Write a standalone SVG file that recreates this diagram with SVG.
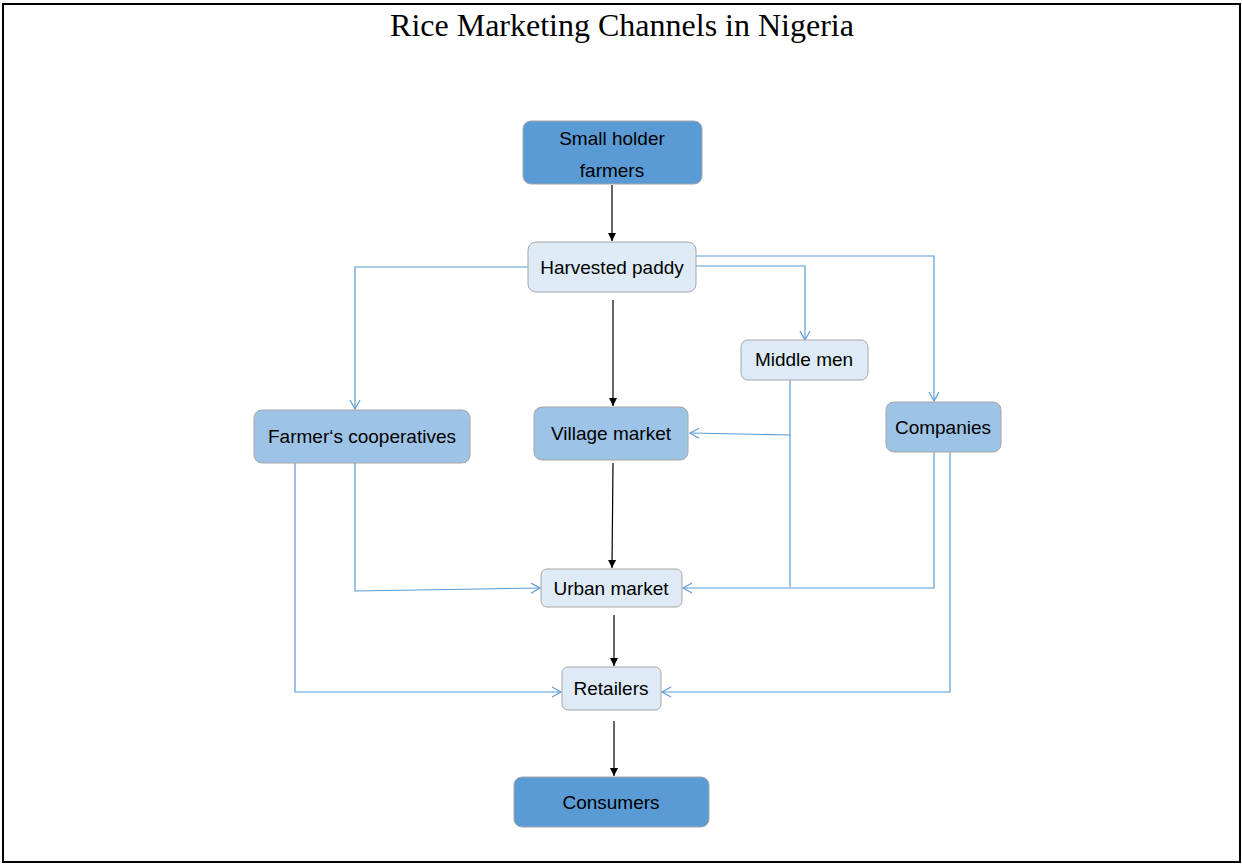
<svg xmlns="http://www.w3.org/2000/svg" width="1242" height="864" viewBox="0 0 1242 864">
<style>
.t{font-family:"Liberation Sans",Arial,sans-serif;font-size:19px;fill:#000;text-anchor:middle}
.dark{fill:#5B9BD5;stroke:#A6A6A6;stroke-width:1}
.mid{fill:#9DC3E6;stroke:#A6A6A6;stroke-width:1}
.light{fill:#DEEBF7;stroke:#A6A6A6;stroke-width:1}
.b{stroke:#000;stroke-width:1.2;fill:none;marker-end:url(#ab)}
.c{stroke:#5B9BD5;stroke-width:1.2;fill:none;marker-end:url(#ac)}
.cn{stroke:#5B9BD5;stroke-width:1.2;fill:none}
</style>
<defs>
<marker id="ab" markerWidth="10" markerHeight="10" refX="9" refY="5" orient="auto" markerUnits="userSpaceOnUse">
<path d="M1,1 L9,5 L1,9 Z" fill="#000"/>
</marker>
<marker id="ac" markerWidth="12" markerHeight="12" refX="10" refY="6" orient="auto" markerUnits="userSpaceOnUse">
<path d="M1,1 L10,6 L1,11" fill="none" stroke="#5B9BD5" stroke-width="1.2"/>
</marker>
</defs>
<rect x="3" y="4" width="1237" height="858" fill="#fff" stroke="#000" stroke-width="2"/>
<text x="622" y="36" font-family="'Liberation Serif','Times New Roman',serif" font-size="32" text-anchor="middle">Rice Marketing Channels in Nigeria</text>
<g id="connectors">
<line class="b" x1="612" y1="185" x2="612" y2="241"/>
<line class="b" x1="613" y1="300" x2="613" y2="406"/>
<line class="b" x1="613" y1="463" x2="612" y2="568"/>
<line class="b" x1="614" y1="615" x2="614" y2="666"/>
<line class="b" x1="614" y1="721" x2="614" y2="776"/>
<path class="c" d="M528,267 H355 V409"/>
<path class="c" d="M696,266 H805 V340"/>
<path class="c" d="M696,256 H934 V401"/>
<path class="cn" d="M790,380 V587"/>
<path class="c" d="M790,435 L690,433"/>
<path class="c" d="M355,463 V591 L540,588"/>
<path class="c" d="M295,463 V692 H561"/>
<path class="c" d="M934,452 V588 H683"/>
<path class="c" d="M950,452 V692 H662"/>
</g>
<g id="n-farmers"><rect class="dark" x="523" y="121" width="179" height="63" rx="8"/><text class="t" x="612" y="145">Small holder</text><text class="t" x="612" y="177">farmers</text></g>
<g id="n-paddy"><rect class="light" x="528" y="242" width="168" height="50" rx="8"/><text class="t" x="612" y="274">Harvested paddy</text></g>
<g id="n-middlemen"><rect class="light" x="741" y="340" width="127" height="40" rx="7"/><text class="t" x="804" y="366">Middle men</text></g>
<g id="n-coop"><rect class="mid" x="254" y="410" width="216" height="53" rx="8"/><text class="t" x="362" y="443">Farmer‘s cooperatives</text></g>
<g id="n-village"><rect class="mid" x="534" y="407" width="154" height="53" rx="8"/><text class="t" x="611" y="440">Village market</text></g>
<g id="n-companies"><rect class="mid" x="886" y="402" width="115" height="50" rx="8"/><text class="t" x="943" y="434">Companies</text></g>
<g id="n-urban"><rect class="light" x="541" y="569" width="141" height="38" rx="6"/><text class="t" x="611" y="595">Urban market</text></g>
<g id="n-retailers"><rect class="light" x="562" y="667" width="99" height="43" rx="6"/><text class="t" x="611" y="695">Retailers</text></g>
<g id="n-consumers"><rect class="dark" x="514" y="777" width="195" height="50" rx="8"/><text class="t" x="611" y="809">Consumers</text></g>
</svg>
